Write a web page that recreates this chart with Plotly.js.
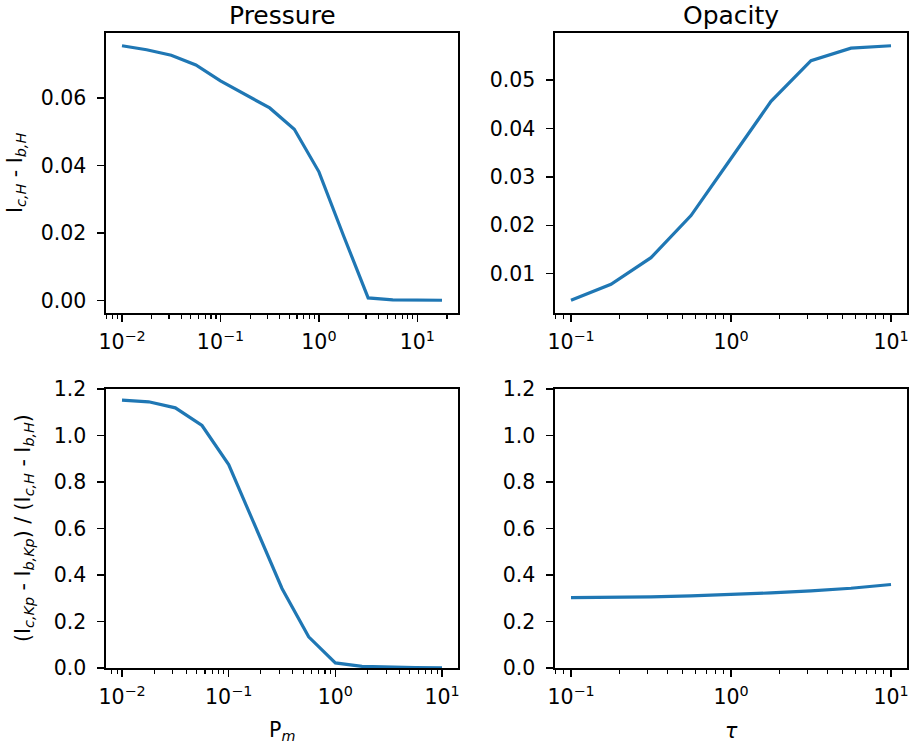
<!DOCTYPE html>
<html><head><meta charset="utf-8">
<script src="https://cdn.plot.ly/plotly-3.0.1.min.js"></script>
<style>html,body{margin:0;padding:0;background:#fff}#chart{width:909px;height:748px}</style>
</head><body><div id="chart"></div>
<script>
// ---- data ----
const pressureH = [0.01, 0.01778, 0.03162, 0.05623, 0.1, 0.1778, 0.3162, 0.5623, 1, 1.778, 3.162, 5.623, 10, 17.78];
const diffH_vsPressure = [0.0754, 0.0742, 0.0726, 0.0697, 0.0650, 0.0610, 0.0570, 0.0507, 0.0381, 0.0192, 0.0008, 0.0002, 0.0002, 0.0001];
const pressureKp = [0.01, 0.01778, 0.03162, 0.05623, 0.1, 0.1778, 0.3162, 0.5623, 1, 1.778, 3.162, 5.623, 10];
const ratio_vsPressure = [1.152, 1.145, 1.119, 1.043, 0.875, 0.61, 0.342, 0.134, 0.022, 0.007, 0.003, 0.002, 0.001];
const tau = [0.1, 0.1778, 0.3162, 0.5623, 1, 1.778, 3.162, 5.623, 10];
const diffH_vsTau = [0.0045, 0.0078, 0.0133, 0.0220, 0.0338, 0.0456, 0.0540, 0.0566, 0.0571];
const ratio_vsTau = [0.303, 0.304, 0.306, 0.310, 0.316, 0.323, 0.332, 0.343, 0.359];

const titles = ['Pressure', 'Opacity'];
const xLabels = ['P<sub><i>m</i></sub>', '<i>τ</i>'];
const yLabelTop = 'I<sub><i>c,H</i></sub> - I<sub><i>b,H</i></sub>';
const yLabelBottom = '(I<sub><i>c,Kp</i></sub> - I<sub><i>b,Kp</i></sub>) / (I<sub><i>c,H</i></sub> - I<sub><i>b,H</i></sub>)';
const logTickVals = [0.01, 0.1, 1, 10];
const logTickText = ['10<sup>−2</sup>', '10<sup>−1</sup>', '10<sup>0</sup>', '10<sup>1</sup>'];

// ---- helpers ----
const W = 909, H = 748;
const FONT = 'DejaVu Sans, Liberation Sans, sans-serif';
const BLUE = '#1f77b4';
function px2x(p){ return p / W; }
function px2y(p){ return 1 - p / H; }
function logRange(arr){
  const a = Math.log10(Math.min(...arr)), b = Math.log10(Math.max(...arr));
  const m = (b - a) * 0.05; return [a - m, b + m];
}
function linRange(arr){
  const a = Math.min(...arr), b = Math.max(...arr);
  const m = (b - a) * 0.05; return [a - m, b + m];
}
const minorVals = [];
for (let e = -3; e <= 2; e++) for (let d = 2; d <= 9; d++) minorVals.push(d * Math.pow(10, e));

function xAxis(domain, range){
  return {
    type: 'log', domain: domain, range: range,
    tickmode: 'array', tickvals: logTickVals, ticktext: logTickText,
    ticks: 'outside', ticklen: 7, tickwidth: 1.5, tickcolor: '#000',
    minor: {tickmode: 'array', tickvals: minorVals, ticks: 'outside', ticklen: 4, tickwidth: 1.2, tickcolor: '#000', showgrid: false},
    showline: true, linecolor: '#000', linewidth: 1.6, mirror: true,
    showgrid: false, zeroline: false,
    tickfont: {family: FONT, size: 20.5, color: '#000'}, ticklabelstandoff: 3
  };
}
function yAxis(domain, range, dtick, fmt){
  return {
    domain: domain, range: range, dtick: dtick, tick0: 0, tickformat: fmt,
    ticks: 'outside', ticklen: 7, tickwidth: 1.5, tickcolor: '#000',
    showline: true, linecolor: '#000', linewidth: 1.6, mirror: true,
    showgrid: false, zeroline: false,
    tickfont: {family: FONT, size: 20.5, color: '#000'}, ticklabelstandoff: 7
  };
}

const colL = [px2x(106), px2x(458)];
const colR = [px2x(555), px2x(907)];
const rowT = [px2y(313), px2y(33)];
const rowB = [px2y(668), px2y(389)];

const lineStyle = {color: BLUE, width: 3.2};
const traces = [
  {x: pressureH, y: diffH_vsPressure, xaxis: 'x', yaxis: 'y', mode: 'lines', line: lineStyle},
  {x: tau, y: diffH_vsTau, xaxis: 'x2', yaxis: 'y2', mode: 'lines', line: lineStyle},
  {x: pressureKp, y: ratio_vsPressure, xaxis: 'x3', yaxis: 'y3', mode: 'lines', line: lineStyle},
  {x: tau, y: ratio_vsTau, xaxis: 'x4', yaxis: 'y4', mode: 'lines', line: lineStyle}
];

const xa1 = xAxis(colL, logRange(pressureH)); xa1.anchor = 'y';
const xa2 = xAxis(colR, logRange(tau)); xa2.anchor = 'y2';
const xa3 = xAxis(colL, logRange(pressureKp)); xa3.anchor = 'y3';
const xa4 = xAxis(colR, logRange(tau)); xa4.anchor = 'y4';
const ya1 = yAxis(rowT, linRange(diffH_vsPressure), 0.02, '.2f'); ya1.anchor = 'x';
const ya2 = yAxis(rowT, linRange(diffH_vsTau), 0.01, '.2f'); ya2.anchor = 'x2';
const ya3 = yAxis(rowB, [0, 1.2], 0.2, '.1f'); ya3.anchor = 'x3';
const ya4 = yAxis(rowB, [0, 1.2], 0.2, '.1f'); ya4.anchor = 'x4';

const annFont = {family: FONT, size: 20.5, color: '#000'};
const titleFont = {family: FONT, size: 25, color: '#000'};
const annotations = [
  {text: titles[0], x: px2x(282), y: 1, xref: 'paper', yref: 'paper', xanchor: 'center', yanchor: 'top', showarrow: false, borderpad: 0, font: titleFont},
  {text: titles[1], x: px2x(731), y: 1, xref: 'paper', yref: 'paper', xanchor: 'center', yanchor: 'top', showarrow: false, borderpad: 0, font: titleFont},
  {text: xLabels[0], x: px2x(282), y: px2y(731), xref: 'paper', yref: 'paper', xanchor: 'center', yanchor: 'middle', showarrow: false, font: annFont},
  {text: xLabels[1], x: px2x(731), y: px2y(731), xref: 'paper', yref: 'paper', xanchor: 'center', yanchor: 'middle', showarrow: false, font: annFont},
  {text: yLabelTop, x: px2x(16), y: px2y(173), xref: 'paper', yref: 'paper', xanchor: 'center', yanchor: 'middle', textangle: -90, showarrow: false, font: annFont},
  {text: yLabelBottom, x: px2x(24), y: px2y(528), xref: 'paper', yref: 'paper', xanchor: 'center', yanchor: 'middle', textangle: -90, showarrow: false, font: annFont}
];

const layout = {
  width: W, height: H, margin: {l: 0, r: 0, t: 0, b: 0},
  paper_bgcolor: '#fff', plot_bgcolor: '#fff', showlegend: false,
  font: {family: FONT, color: '#000'},
  xaxis: xa1, xaxis2: xa2, xaxis3: xa3, xaxis4: xa4,
  yaxis: ya1, yaxis2: ya2, yaxis3: ya3, yaxis4: ya4,
  annotations: annotations
};
Plotly.newPlot('chart', traces, layout, {staticPlot: true, displayModeBar: false});
</script>
</body></html>
